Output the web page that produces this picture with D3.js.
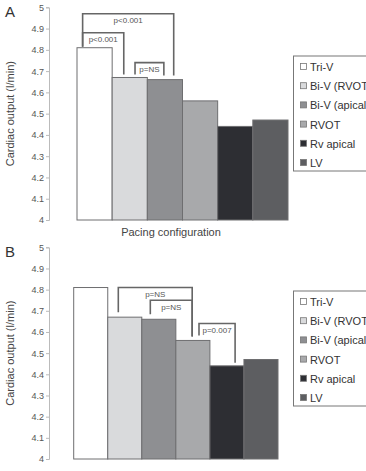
<!DOCTYPE html>
<html><head><meta charset="utf-8">
<script src="https://cdn.jsdelivr.net/npm/d3@7"></script>
<style>body{margin:0;background:#fff}svg{display:block}text{font-family:"Liberation Sans",Arial,sans-serif}</style>
</head><body>
<script>
const categories = ["Tri-V","Bi-V (RVOT","Bi-V (apical","RVOT","Rv apical","LV"];
const values = [4.81,4.67,4.66,4.56,4.44,4.47];
const colors = ["#ffffff","#d9dadc","#8e8f92","#a8a9ab","#2d2e33","#5d5e61"];
const yTicks = [4,4.1,4.2,4.3,4.4,4.5,4.6,4.7,4.8,4.9,5];
// brackets: [fromIndex, toIndex, level value, label]
const bracketsA = [[0,2,4.97,"p<0.001"],[0,1,4.88,"p<0.001"],[1,2,4.74,"p=NS"]];
const bracketsB = [[1,3,4.81,"p=NS"],[2,3,4.75,"p=NS"],[3,4,4.64,"p=0.007"]];

const svg = d3.select("body").append("svg").attr("width",366).attr("height",471);

function panel(cfg){
  const g = svg.append("g");
  const y = d3.scaleLinear().domain([4,5]).range([cfg.y0, cfg.y1]);
  const x = d3.scaleBand().domain(categories).range([cfg.x0, cfg.x1]).padding(0);
  // axis
  const ax = g.append("g").attr("transform",`translate(49,0)`)
    .call(d3.axisLeft(y).tickValues(yTicks).tickSize(3).tickFormat(d=>d3.format("")(+d.toFixed(1))));
  ax.select(".domain").attr("stroke","#bbb");
  ax.selectAll(".tick line").attr("stroke","#bbb");
  ax.selectAll(".tick text").attr("fill","#555").attr("font-size",9).attr("font-family","Liberation Sans, Arial, sans-serif").attr("x",-5);
  // bars
  g.selectAll("rect.bar").data(values).enter().append("rect")
    .attr("x",(d,i)=>x(categories[i])).attr("width",x.bandwidth())
    .attr("y",d=>y(d)).attr("height",d=>y(4)-y(d))
    .attr("fill",(d,i)=>colors[i]).attr("stroke","#6e6e70").attr("stroke-width",1);
  // brackets
  cfg.brackets.forEach(([a,b,lv,lab])=>{
    const xa = x(categories[a]) + x.bandwidth()*cfg.offA[lab+a], xb = x(categories[b]) + x.bandwidth()*cfg.offB[lab+b];
    const ya = y(values[a]) - cfg.gapA[lab+a], yb = y(values[b]) - cfg.gapB[lab+b], yt = y(lv);
    g.append("path").attr("d",`M${xa},${ya}V${yt}H${xb}V${yb}`).attr("fill","none").attr("stroke","#666").attr("stroke-width",1.6);
    g.append("text").attr("x",(xa+xb)/2).attr("y",yt+9.5).attr("text-anchor","middle").attr("font-size",8).attr("fill","#555").text(lab);
  });
  // letter
  g.append("text").attr("x",5).attr("y",cfg.y1+10).attr("font-size",15).attr("fill","#333").text(cfg.letter);
  // y title
  g.append("text").attr("transform",`translate(14,${(cfg.y0+cfg.y1)/2}) rotate(-90)`).attr("text-anchor","middle")
    .attr("font-size",11).attr("fill","#444").text("Cardiac output (l/min)");
  // legend
  const ly = cfg.legY;
  g.append("rect").attr("x",293.5).attr("y",ly).attr("width",80).attr("height",115).attr("fill","#fff").attr("stroke","#777").attr("stroke-width",1);
  categories.forEach((c,i)=>{
    const yy = ly+11+i*19.2;
    g.append("rect").attr("x",300.5).attr("y",yy-3.5).attr("width",6).attr("height",6).attr("fill",colors[i]).attr("stroke","#777").attr("stroke-width",0.8);
    g.append("text").attr("x",310).attr("y",yy+4).attr("font-size",11).attr("fill","#333").text(c);
  });
  return {x,y};
}

panel({letter:"A", x0:77, x1:288, y0:220, y1:7.3, legY:56, brackets:bracketsA,
  offA:{"p<0.0010":0.16,"p=NS1":0.65}, offB:{"p<0.0012":0.75,"p<0.0011":0.33,"p=NS2":0.47},
  gapA:{"p<0.0010":1,"p=NS1":3}, gapB:{"p<0.0012":4,"p<0.0011":3,"p=NS2":4}});
panel({letter:"B", x0:73.7, x1:278, y0:459, y1:247.3, legY:291, brackets:bracketsB,
  offA:{"p=NS1":0.31,"p=NS2":0.25,"p=0.0073":0.68}, offB:{"p=NS3":0.48,"p=NS3x":0,"p=0.0074":0.74},
  gapA:{"p=NS1":5,"p=NS2":5,"p=0.0073":5}, gapB:{"p=NS3":4,"p=0.0074":3}});

svg.append("text").attr("x",171).attr("y",236).attr("text-anchor","middle").attr("font-size",11).attr("fill","#444").text("Pacing configuration");
</script>
</body></html>
